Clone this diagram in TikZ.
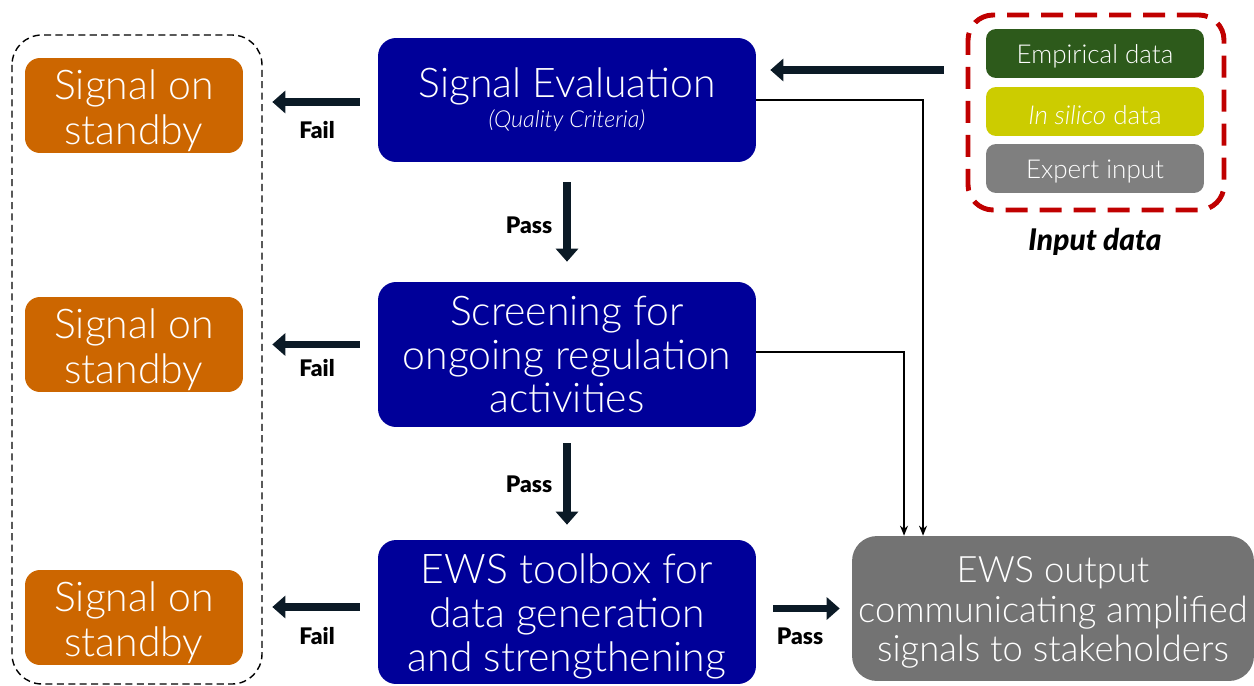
\documentclass[tikz,border=0pt]{standalone}
\usepackage{fontspec}
\setmainfont{Lato Light}[BoldFont={Lato Black}, ItalicFont={Lato Light Italic}, BoldItalicFont={Lato Black Italic}]
\usetikzlibrary{arrows.meta,calc}
\definecolor{orangebox}{HTML}{CC6600}
\definecolor{bluebox}{HTML}{000099}
\definecolor{outgray}{HTML}{737373}
\definecolor{empgreen}{HTML}{2D5A1B}
\definecolor{silyellow}{HTML}{CCCC00}
\definecolor{expgray}{HTML}{7F7F7F}
\definecolor{reddash}{HTML}{C00000}
\definecolor{arrowdark}{HTML}{0B1A26}
\tikzset{
  standby/.style={fill=orangebox, rounded corners=0.3cm, minimum width=4.36cm, minimum height=1.9cm, text=white, align=center, inner sep=0pt, font=\fontsize{23.3}{25.5}\selectfont},
  stagebox/.style={fill=bluebox, rounded corners=0.36cm, minimum width=7.56cm, text=white, align=center, inner sep=0pt, font=\fontsize{23.3}{25}\selectfont},
  outbox/.style={fill=outgray, rounded corners=0.5cm, minimum width=8.04cm, minimum height=2.9cm, text=white, align=center, inner sep=0pt, font=\fontsize{20.7}{22.5}\selectfont},
  inbox/.style={rounded corners=0.2cm, minimum width=4.36cm, minimum height=0.98cm, text=white, align=center, inner sep=0pt, font=\fontsize{14.8}{17}\selectfont},
  bigarrow/.style={draw=arrowdark, line width=4.5pt, -{Triangle[length=0.26cm,width=0.44cm]}},
  thinarrow/.style={draw=black, line width=0.8pt, -{Stealth[length=0.2cm,width=0.16cm]}},
  flowlabel/.style={font=\bfseries\fontsize{13}{15}\selectfont, text=black, inner sep=0pt}
}
\begin{document}
\begin{tikzpicture}[x=0.02cm,y=-0.02cm]
\useasboundingbox (0,0) rectangle (1254,686);
% left dashed frame
\draw[black, line width=0.8pt, dash pattern=on 4pt off 2.5pt, rounded corners=0.6cm] (12,35) rectangle (262,684);
% red dashed frame
\node[draw=reddash, line width=2.8pt, dash pattern=on 0.44cm off 0.24cm, rounded corners=0.5cm, minimum width=5.12cm, minimum height=3.9cm, inner sep=0pt] (red) at (1096,112.5) {};
% standby boxes
\node[standby] (o1) at (134,105.5) {\rule{0pt}{23pt}Signal on\\standby};
\node[standby] (o2) at (134,344.5) {\rule{0pt}{23pt}Signal on\\standby};
\node[standby] (o3) at (134,617.5) {\rule{0pt}{23pt}Signal on\\standby};
% stage boxes
\node[stagebox, minimum height=2.48cm] (b1) at (567,100) {Signal Evaluation\\[-8pt]{\itshape\fontsize{13.3}{15}\selectfont (Quality Criteria)}};
\node[stagebox, minimum height=2.9cm] (b2) at (567,354.5) {Screening for\\ongoing regulation\\activities};
\node[stagebox, minimum height=2.88cm] (b3) at (567,612) {\rule{0pt}{21.8pt}EWS toolbox for\\data generation\\and strengthening};
% output box
\node[outbox] (out) at (1053,608.5) {\rule{0pt}{19.5pt}EWS output\\communicating amplified\\signals to stakeholders};
% input boxes
\node[inbox, fill=empgreen] (e1) at (1095,53.5) {\rule{0pt}{14.4pt}Empirical data};
\node[inbox, fill=silyellow] (e2) at (1095,111.5) {\rule{0pt}{14.4pt}\textit{In silico} data};
\node[inbox, fill=expgray] (e3) at (1095,168.5) {\rule{0pt}{14.4pt}Expert input};
\node[font=\bfseries\itshape\fontsize{17}{20}\selectfont, inner sep=0pt] (inlabel) at (1095,242) {Input data};
% fail arrows
\draw[bigarrow, shorten <=0.36cm, shorten >=0.58cm] ([yshift=-0.04cm]b1.west) -- ([yshift=-0.04cm]b1.west -| o1.east);
\draw[bigarrow, shorten <=0.36cm, shorten >=0.58cm] (b2.west |- o2.east) -- (o2.east);
\draw[bigarrow, shorten <=0.36cm, shorten >=0.58cm] ([yshift=0.1cm]b3.west) -- ([yshift=0.1cm]b3.west -| o3.east);
\node[flowlabel] (f1) at (317,130) {Fail};
\node[flowlabel] (f2) at (317,368) {Fail};
\node[flowlabel] (f3) at (317,636) {Fail};
% pass arrows
\draw[bigarrow, shorten <=0.4cm, shorten >=0.4cm] (b1.south) -- (b2.north);
\draw[bigarrow, shorten <=0.32cm, shorten >=0.3cm] (b2.south) -- (b3.north);
\draw[bigarrow, shorten <=0.34cm, shorten >=0.24cm] (b3.east |- out.west) -- (out.west);
\node[flowlabel] (p1) at (529,225) {Pass};
\node[flowlabel] (p2) at (529,484) {Pass};
\node[flowlabel] (p3) at (800,636) {Pass};
% input arrow
\draw[bigarrow, shorten <=0.44cm, shorten >=0.28cm] ([yshift=0.6cm]b1.east -| red.west) -- ([yshift=0.6cm]b1.east);
% thin connectors
\draw[thinarrow] (b1.east) -| ([xshift=-2.6cm]out.north);
\draw[thinarrow] ([yshift=0.05cm]b2.east) -| ([xshift=-2.98cm]out.north);
\end{tikzpicture}
\end{document}
